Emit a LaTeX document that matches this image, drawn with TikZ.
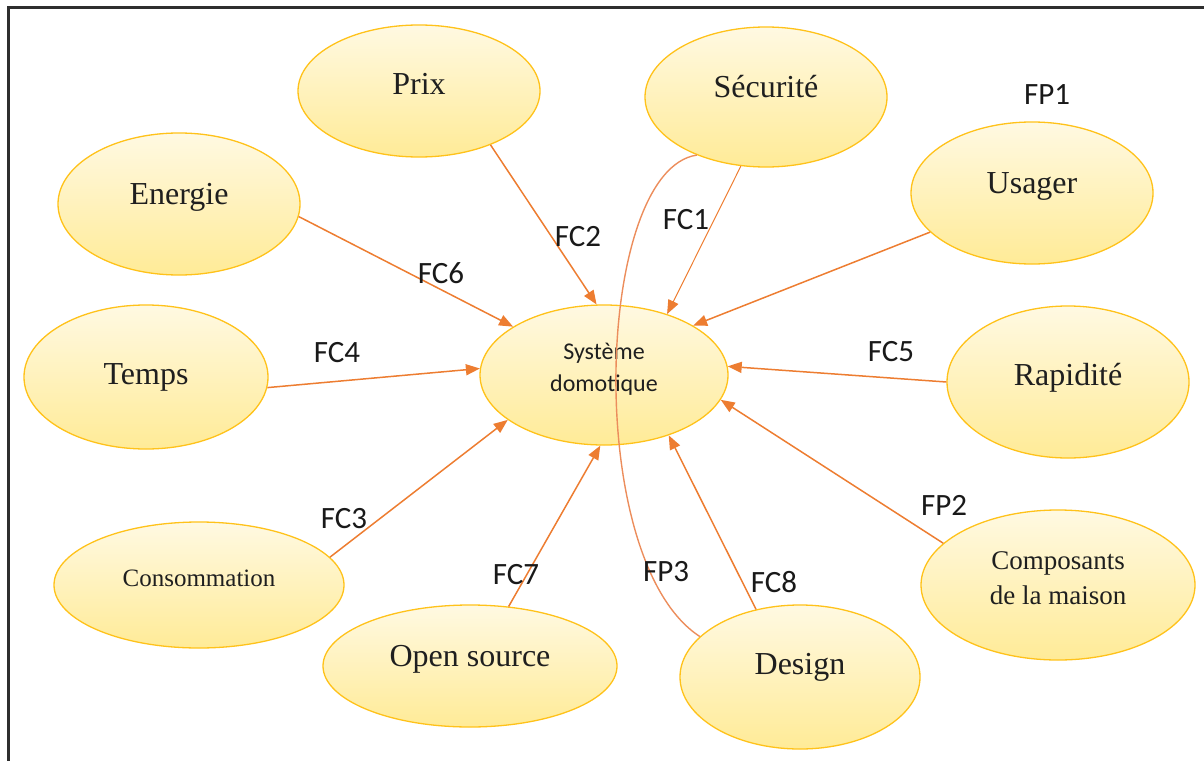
\documentclass[tikz,border=0pt]{standalone}
\usepackage{fontspec}
\setmainfont{Liberation Serif}
\newfontfamily\lblfont{Carlito}
\usetikzlibrary{shapes.geometric,arrows.meta}
\definecolor{bubtop}{HTML}{FFF9E2}
\definecolor{bubbot}{HTML}{FFEB97}
\definecolor{bubline}{HTML}{FFC21A}
\definecolor{arrcol}{HTML}{ED7D31}
\definecolor{curvecol}{HTML}{EC8D5C}
\definecolor{frame}{HTML}{2E2E2E}
\tikzset{
  bub/.style={ellipse, draw=bubline, line width=1.3pt, top color=bubtop, bottom color=bubbot,
    inner sep=0pt, minimum width=#1},
  bub/.default=242pt,
  btxt/.style={font=\fontsize{32}{36}\selectfont, text=black!88, yshift=7pt, align=center},
  flbl/.style={font=\lblfont\fontsize{31}{34}\selectfont, text=black!90},
  arr/.style={draw=arrcol, line width=1.5pt, -{Triangle[length=14pt,width=11pt]}},
  arrthin/.style={draw=arrcol, line width=1pt, -{Triangle[length=14pt,width=11pt]}},
}
\begin{document}
\begin{tikzpicture}[x=1pt,y=-1pt]
\useasboundingbox (0,0) rectangle (1204,760);
% page frame (only top and left edges fall inside the picture)
\draw[frame, line width=3pt] (8.5,775) -- (8.5,7.5) -- (1220,7.5);

% central block
\node[bub=248pt, minimum height=140pt,
  label={[btxt, font=\lblfont\fontsize{24}{32}\selectfont, yshift=-1pt]center:Système\\domotique}] (sys) at (604,375) {};

% surrounding functions
\node[bub, minimum height=132pt, label={[btxt]center:Prix}] (prix) at (419,91) {};
\node[bub, minimum height=140pt, label={[btxt, yshift=3pt]center:Sécurité}] (secu) at (766,97) {};
\node[bub, minimum height=142pt, label={[btxt]center:Energie}] (energie) at (179,204) {};
\node[bub, minimum height=142pt, label={[btxt]center:Usager}] (usager) at (1032,193) {};
\node[bub=244pt, minimum height=144pt, label={[btxt, yshift=-7pt]center:Temps}] (temps) at (146,377) {};
\node[bub, minimum height=152pt, label={[btxt, yshift=-3pt]center:Rapidité}] (rapid) at (1068,382) {};
\node[bub=290pt, minimum height=126pt, label={[btxt, font=\fontsize{25}{30}\selectfont]center:Consommation}] (conso) at (199,585) {};
\node[bub=294pt, minimum height=122pt, label={[btxt]center:Open source}] (open) at (470,666) {};
\node[bub=240pt, minimum height=144pt, label={[btxt, yshift=3pt]center:Design}] (design) at (800,677) {};
\node[bub=274pt, minimum height=150pt, label={[btxt, font=\fontsize{27}{35}\selectfont]center:Composants\\de la maison}] (compo) at (1058,585) {};

% function arrows
\draw[arr] (prix.-37) -- (sys.96);
\draw[arrthin] (secu.250) -- (sys.44);
\draw[arr] (energie.-6) -- (sys.152);
\draw[arr] (usager.201) -- (sys.29);
\draw[arr] (temps.-5) -- (sys.177);
\draw[arr] (rapid.180) -- (sys.4);
\draw[arr] (compo.160) -- (sys.-12);
\draw[arr] (conso.12) -- (sys.205);
\draw[arr] (open.57) -- (sys.267);
\draw[arr] (design.123) -- (sys.-43);

% FP3 link between Sécurité and Design
\draw[curvecol, line width=1.4pt] (secu.220) .. controls (595,170) and (582,560) .. (design.158);

% function labels
\node[flbl] (lfp1) at (1047,95) {FP1};
\node[flbl] (lfc2) at (578,237) {FC2};
\node[flbl] (lfc1) at (686,220) {FC1};
\node[flbl] (lfc6) at (441,273) {FC6};
\node[flbl] (lfc4) at (337,353) {FC4};
\node[flbl] (lfc5) at (891,352) {FC5};
\node[flbl] (lfp2) at (944,505) {FP2};
\node[flbl] (lfc3) at (344,519) {FC3};
\node[flbl] (lfc7) at (516,575) {FC7};
\node[flbl] (lfp3) at (666,572) {FP3};
\node[flbl] (lfc8) at (774,582) {FC8};
\end{tikzpicture}
\end{document}
